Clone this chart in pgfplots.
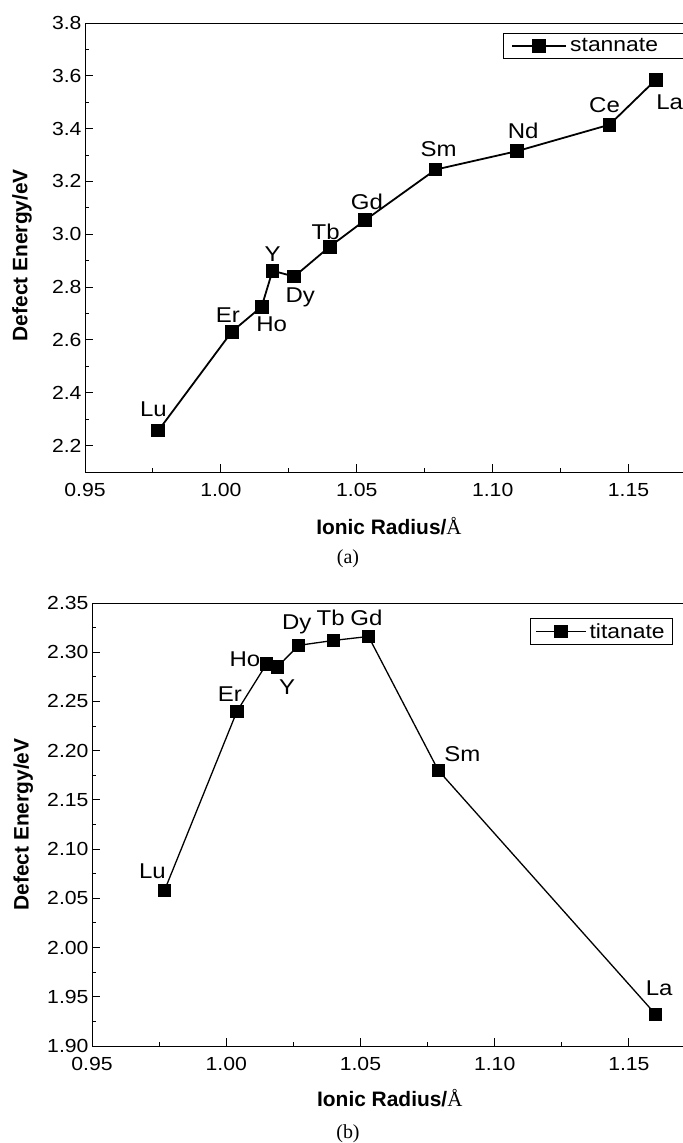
\documentclass[border=0pt]{standalone}
\usepackage{fontspec}
\setmainfont{Liberation Sans}
\newfontfamily\lab{Liberation Sans}[FakeStretch=1.12]
\newfontfamily\tms{Liberation Serif}
\usepackage{pgfplots}
\pgfplotsset{compat=1.18}
\usepackage{pgfplotstable}

% ionic radius (A), defect energy (eV), element, label offset (bp)
\pgfplotstableread{
x y lab dx dy
0.977 2.257 Lu -5 21
1.004 2.631 Er -4 17
1.015 2.726 Ho 10 -18
1.019 2.862 Y 0 17
1.027 2.840 Dy 6 -21
1.040 2.953 Tb -4 15
1.053 3.053 Gd 2 18.5
1.079 3.245 Sm 3 20.5
1.109 3.315 Nd 6 20
1.143 3.415 Ce -5 20
1.160 3.585 La 14 -22
}\stannate

\pgfplotstableread{
x y lab dx dy
0.977 2.058 Lu -12 19
1.004 2.240 Er -7 17.5
1.015 2.288 Ho -21.5 4.5
1.019 2.285 Y 10 -20
1.027 2.307 Dy -2 20.5
1.040 2.312 Tb -3 23
1.053 2.316 Gd -2 19
1.079 2.180 Sm 24 16
1.160 1.932 La 3.5 26
}\titanate

\pgfplotsset{
  panel/.style={scale only axis, anchor=south west, clip=false,
    xmin=0.95, xmax=1.175, xtick={0.95,1.00,1.05,1.10,1.15},
    minor x tick num=1, minor y tick num=1,
    tick align=inside, tick pos=left,
    major tick length=8bp, minor tick length=4bp,
    axis line style={line width=1bp},
    every tick/.style={black, line width=1bp},
    /pgf/number format/assume math mode=true,
    tick label style={font=\lab\fontsize{19}{21}\selectfont},
    xticklabel style={yshift=-8bp,/pgf/number format/.cd,fixed,fixed zerofill,precision=2},
    xlabel={Ionic Radius/{\tms\mdseries Å}},
    ylabel={Defect Energy/eV},
    xlabel style={anchor=center, font=\fontsize{21}{24}\selectfont\bfseries},
    ylabel style={anchor=center, font=\fontsize{21}{24}\selectfont\bfseries},
    legend cell align=left,
    legend style={draw=black, line width=0.8bp, font=\lab\fontsize{20.5}{22}\selectfont,
      anchor=north west, inner ysep=3bp, nodes={inner xsep=3bp, inner ysep=2bp}},
  },
  pts/.style={black, line width=#1, mark=square*, mark size=6bp,
    mark options={solid},
    visualization depends on={\thisrow{dx}\as\ldx},
    visualization depends on={\thisrow{dy}\as\ldy},
    nodes near coords, point meta=explicit symbolic,
    every node near coord/.style={anchor=center, inner sep=0pt, black,
      xshift=\ldx bp, yshift=\ldy bp, font=\lab\fontsize{21.5}{23}\selectfont}},
}

\begin{document}
\begin{tikzpicture}
\path[use as bounding box] (0,0) rectangle (683bp,-1143bp);

\begin{axis}[panel, width=611.5bp, height=449bp, at={(85bp,-472bp)},
  ymin=2.1, ymax=3.8, ytick={2.2,2.4,2.6,2.8,3.0,3.2,3.4,3.6,3.8},
  yticklabel style={/pgf/number format/.cd,fixed,fixed zerofill,precision=1},
  xlabel style={at={(axis description cs:0.497,-0.1203)}},
  ylabel style={at={(axis description cs:-0.103,0.483)}},
  legend style={at={(axis description cs:0.6836,0.9777)}, inner xsep=8bp},
  legend image code/.code={\draw[mark repeat=2,mark phase=2,#1] plot coordinates {(0bp,0bp)(27bp,0bp)(54bp,0bp)};}]
\addplot[pts=1.8bp] table[x=x,y=y,meta=lab] {\stannate};
\addlegendentry{stannate\hspace*{20bp}}
\end{axis}

\begin{axis}[panel, width=604bp, height=443bp, at={(92bp,-1046bp)},
  ymin=1.90, ymax=2.35, ytick={1.90,1.95,2.00,2.05,2.10,2.15,2.20,2.25,2.30,2.35},
  yticklabel style={/pgf/number format/.cd,fixed,fixed zerofill,precision=2},
  xlabel style={at={(axis description cs:0.493,-0.1174)}},
  ylabel style={at={(axis description cs:-0.114,0.5)}},
  legend style={at={(axis description cs:0.725,0.966)}, inner xsep=5bp},
  legend image code/.code={\draw[mark repeat=2,mark phase=2,#1] plot coordinates {(0bp,0bp)(25bp,0bp)(50bp,0bp)};}]
\addplot[pts=1.3bp] table[x=x,y=y,meta=lab] {\titanate};
\addlegendentry{titanate}
\end{axis}

\node[font=\tms\fontsize{20}{22}\selectfont] at (348bp,-559bp) {(a)};
\node[font=\tms\fontsize{20}{22}\selectfont] at (348bp,-1134bp) {(b)};
\end{tikzpicture}
\end{document}
